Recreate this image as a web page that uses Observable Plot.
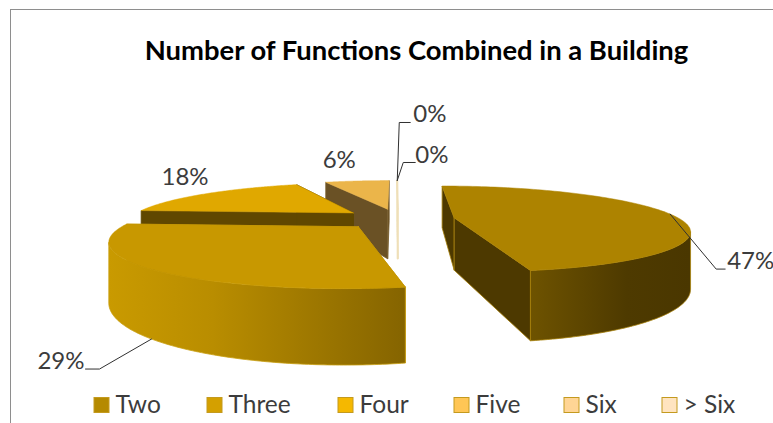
<!DOCTYPE html>
<html>
<head>
<meta charset="utf-8">
<script src="https://cdn.jsdelivr.net/npm/d3@7"></script>
<script src="https://cdn.jsdelivr.net/npm/@observablehq/plot@0.6"></script>
<style>
  html, body { margin: 0; padding: 0; background: #fff; overflow: hidden; }
  svg { display: block; }
</style>
</head>
<body>
<div id="chart"></div>
<script>
// Share of buildings by number of combined functions
const categories = ["Two", "Three", "Four", "Five", "Six", "> Six"];
const shares = [47, 29, 18, 6, 0, 0];
const chartTitle = "Number of Functions Combined in a Building";

// Colours per slice
const legendColors = ["#b58a00", "#d4a000", "#f5b800", "#ffc655", "#ffd595", "#ffe4c0"];
const topColors = ["#ad8300", "#c89800", "#e0a800", "#ebb54a", "#f0e0b8", "#f0e0b8"];
const wallColors = ["#4d3900", "#7a5c00", "#604700", "#6a5125", "#f0e0b8", "#f0e0b8"];
const edgeColors = ["#a8820a", "#c9a012", "#604700", "#7a6030", "#efdfb8", "#efdfb8"];
const rimFills = ["url(#rim-two)", "url(#rim-three)", "#604700", "#6a5125", "#f0e0b8", "#f0e0b8"];

// Camera and pie geometry of the perspective view
const vanishX = 395, vanishY = 63, focal = 863;
const pieX = 0.015, pieDepth = 5.56, radius = 1.45, explode = 0.367, wallRatio = 0.34;

const rad = (a) => (a * Math.PI) / 180;
const total = d3.sum(shares);

// Project a ground-plane point to the screen; lift = 0 is the top face, 1 the base
function project(X, depth, lift = 0) {
  const yy = focal / depth;
  return { x: vanishX + X * yy, y: vanishY + yy * (1 + wallRatio * lift) };
}

// Angular extent and exploded centre of every slice, clockwise from the back
let running = 0;
const slices = shares.map((share, i) => {
  const start = (running / total) * 360;
  running += share;
  const end = (running / total) * 360;
  const mid = (start + end) / 2;
  const cx = pieX + explode * Math.sin(rad(mid));
  const cd = pieDepth + explode * Math.cos(rad(mid));
  return { i, share, start, end, mid, cx, cd };
});

const rimPoint = (s, a, lift = 0) =>
  project(s.cx + radius * Math.sin(rad(a)), s.cd + radius * Math.cos(rad(a)), lift);
const apex = (s, lift = 0) => project(s.cx, s.cd, lift);
const angles = (a, b) => d3.range(0, 121).map((k) => a + ((b - a) * k) / 120);

// The front-facing arc of the rim runs between the silhouette extremes of its circle
function frontArc(s) {
  const circle = d3.range(0, 360, 0.25);
  const right = d3.greatest(circle, (a) => rimPoint(s, a).x);
  const left = d3.least(circle, (a) => rimPoint(s, a).x);
  return [Math.max(s.start, right), Math.min(s.end, left)];
}

// Faces of one slice, painted from back to front
function faces(s) {
  const out = [];
  for (const edge of [s.start, s.end]) {
    const wall = [apex(s), rimPoint(s, edge), rimPoint(s, edge, 1), apex(s, 1), apex(s)];
    out.push({ pts: wall, fill: wallColors[s.i], stroke: edgeColors[s.i], w: 0.8 });
  }
  const [a, b] = frontArc(s);
  if (b > a) {
    const arc = angles(a, b);
    const wall = [...arc.map((t) => rimPoint(s, t)), ...arc.slice().reverse().map((t) => rimPoint(s, t, 1))];
    out.push({ pts: [...wall, wall[0]], fill: rimFills[s.i], stroke: edgeColors[s.i], w: 0.8 });
  }
  const top = [apex(s), ...angles(s.start, s.end).map((t) => rimPoint(s, t)), apex(s)];
  out.push({ pts: top, fill: topColors[s.i], stroke: topColors[s.i], w: 0.5 });
  return out;
}

// Empty slices collapse to a thin sliver, then the rest from the back forward
const paintOrder = [5, 4, 3, 2, 1, 0];
const polygons = paintOrder.flatMap((i) => faces(slices[i]));
const zeroSliver = [slices[5]].map((s) => [rimPoint(s, 0), apex(s), apex(s, 1)])[0];

// Percentage labels: offsets from the slice's rim midpoint, with optional leader bends
const labelOffsets = [
  { lift: 0, dx: 57, dy: 47, bends: [[46, 55], [55, 55]] },
  { lift: 1, dx: -67, dy: 22, bends: [[-52, 30], [-66, 30]] },
  { lift: 0, dx: -21, dy: -16, bends: [] },
  { lift: 0, dx: -18, dy: -21, bends: [] },
  { lift: 0, dx: 16, dy: -66, bends: [[2, -58], [13, -58]] },
  { lift: 0, dx: 18, dy: -25, bends: [[6, -18], [18, -18]] }
];
const labels = slices.map((s, i) => {
  const o = labelOffsets[i];
  const p = rimPoint(s, s.mid, o.lift);
  return {
    text: `${s.share}%`,
    x: p.x + o.dx,
    y: p.y + o.dy,
    anchor: i === 1 ? "end" : i === 2 || i === 3 ? "middle" : "start",
    leader: o.bends.length ? [p, ...o.bends.map(([dx, dy]) => ({ x: p.x + dx, y: p.y + dy }))] : null
  };
});

// Legend layout
const legendX = [94, 207, 338, 454, 564, 662];
const legendY = 405, swatch = 15;

const font = "Lato, 'Open Sans', sans-serif";
const marks = [
  // Chart frame
  Plot.ruleY([9], { x1: 10, x2: 773, stroke: "#8e8e8e", strokeWidth: 1 }),
  Plot.ruleX([10], { y1: 9, y2: 423, stroke: "#8e8e8e", strokeWidth: 1 }),
  // Pie faces
  ...polygons.map((p) =>
    Plot.line(p.pts, { x: "x", y: "y", fill: p.fill, stroke: p.stroke, strokeWidth: p.w, curve: "linear" })
  ),
  Plot.line(zeroSliver, { x: "x", y: "y", stroke: "#efdfb8", strokeWidth: 2 }),
  // Leaders and percentages
  ...labels.filter((l) => l.leader).map((l) =>
    Plot.line(l.leader, { x: "x", y: "y", stroke: "#303030", strokeWidth: 1 })
  ),
  ...["start", "middle", "end"].map((anchor) =>
    Plot.text(labels.filter((l) => l.anchor === anchor), {
      x: "x", y: "y", text: "text", textAnchor: anchor,
      fontFamily: font, fontSize: 24, fill: "#3c3c3c"
    })
  ),
  // Title
  Plot.text([chartTitle], {
    x: 416, y: 51, text: (d) => d, fontFamily: font, fontSize: 27.4,
    fontWeight: 700, fill: "#000"
  }),
  // Legend
  Plot.rect(categories, {
    x1: (d, i) => legendX[i], x2: (d, i) => legendX[i] + swatch,
    y1: legendY - swatch / 2, y2: legendY + swatch / 2,
    fill: (d) => d, stroke: "#c49a1e", strokeWidth: 1
  }),
  Plot.text(categories, {
    x: (d, i) => legendX[i] + swatch + 6, y: legendY, text: (d) => d, textAnchor: "start",
    fontFamily: font, fontSize: 24.5, fill: "#3c3c3c"
  })
];

const chart = Plot.plot({
  width: 773,
  height: 423,
  margin: 0,
  x: { domain: [0, 773], range: [0, 773], axis: null },
  y: { domain: [0, 423], range: [0, 423], axis: null },
  color: { domain: categories, range: legendColors },
  style: { background: "#fff" },
  marks
});

// Horizontal shading of the curved outer walls
const defs = d3.select(chart).insert("defs", ":first-child");
const shade = (id, stops) => {
  const g = defs.append("linearGradient").attr("id", id);
  stops.forEach(([offset, color]) => g.append("stop").attr("offset", offset).attr("stop-color", color));
};
shade("rim-two", [[0, "#6e5300"], [0.6, "#4e3a00"], [1, "#4a3700"]]);
shade("rim-three", [[0, "#c99a00"], [0.35, "#b98d00"], [1, "#856400"]]);

document.getElementById("chart").append(chart);
</script>
</body>
</html>
